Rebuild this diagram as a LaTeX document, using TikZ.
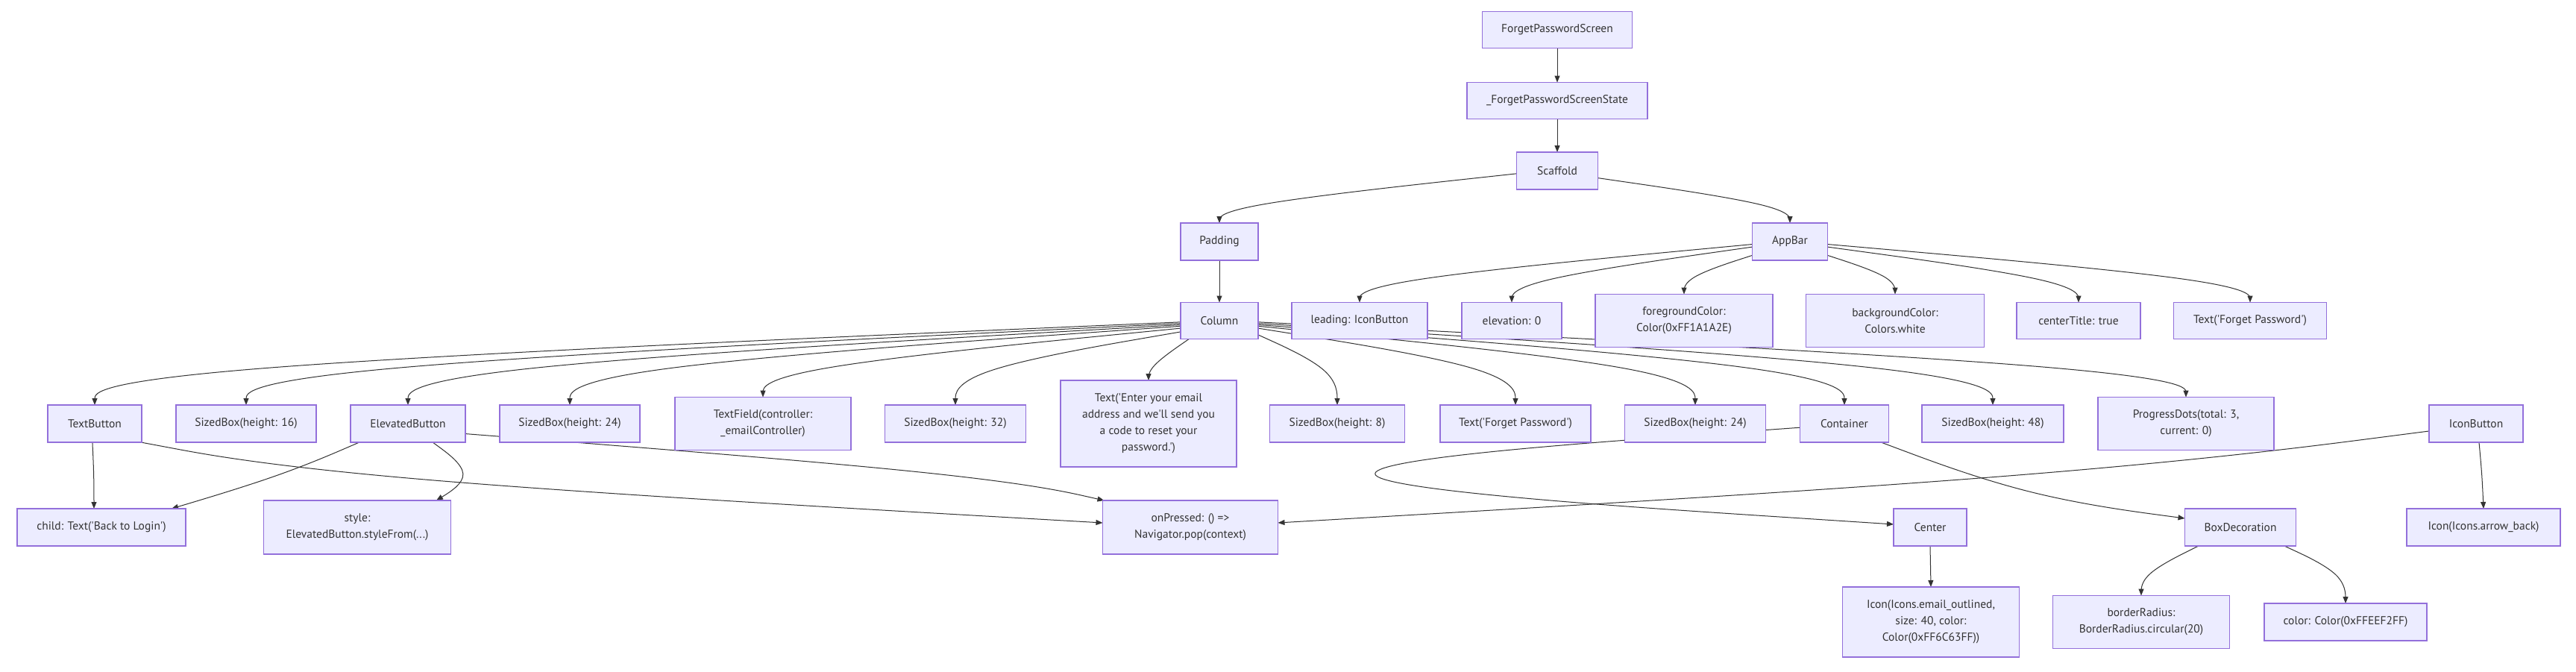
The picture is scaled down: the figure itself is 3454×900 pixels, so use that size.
\documentclass[tikz,border=0pt]{standalone}
\usepackage{fontspec}
\newfontfamily\nf{PT Sans}
\usetikzlibrary{arrows.meta,calc}
\pgfdeclarelayer{back}
\pgfdeclarelayer{edges}
\pgfsetlayers{back,edges,main}
\definecolor{boxfill}{HTML}{ECECFF}
\definecolor{boxline}{HTML}{9370DB}
\definecolor{ink}{HTML}{333333}
\newcommand{\nfsize}{\nf\fontsize{15.5pt}{22pt}\selectfont}
\tikzset{
  box/.style={draw=boxline, fill=boxfill, line width=1.1pt, text=ink, align=center,
    inner sep=0pt, outer sep=0pt, font=\nfsize},
  sz/.style 2 args={minimum width=#1pt, minimum height=#2pt},
  conn/.style={draw=ink, line width=1pt, -{Triangle[length=9pt,width=7pt]}},
  basis/.style={to path={
    -- ($0.83333*(\tikztostart)+0.16667*#1$)
    .. controls ($0.66667*(\tikztostart)+0.33333*#1$) and ($0.33333*(\tikztostart)+0.66667*#1$)
    .. ($0.16667*(\tikztostart)+0.66667*#1+0.16667*(\tikztotarget)$)
    .. controls ($0.66667*#1+0.33333*(\tikztotarget)$) and ($0.33333*#1+0.66667*(\tikztotarget)$)
    .. ($0.16667*#1+0.83333*(\tikztotarget)$)
    -- (\tikztotarget)}}
}
\begin{document}
\begin{tikzpicture}[x=1pt,y=-1pt]
\useasboundingbox (0,0) rectangle (3454,900);
\begin{pgfonlayer}{back}
\fill[white] (0,0) rectangle (3454,900);
\end{pgfonlayer}
% rank 0-2
\node[box,sz={201}{49}] (fps) at (2088,40) {ForgetPasswordScreen};
\node[box,sz={242}{49}] (fpss) at (2088,135) {\_ForgetPasswordScreenState};
\node[box,sz={109}{50}] (scaffold) at (2088,229) {Scaffold};
\node[box,sz={104}{50}] (padding) at (1635,324) {Padding};
\node[box,sz={101}{50}] (appbar) at (2400,324) {AppBar};
% rank 3
\node[box,sz={104}{49}] (column) at (1635,430) {Column};
\node[box,sz={182}{49}] (leading) at (1823,430) {leading: IconButton};
\node[box,sz={134}{49}] (elev) at (2027,430) {elevation: 0};
\node[box,sz={238}{71}] (fg) at (2258,430) {foregroundColor:\\Color(0xFF1A1A2E)};
\node[box,sz={239}{71}] (bg) at (2541,430) {backgroundColor:\\Colors.white};
\node[box,sz={166}{49}] (ctitle) at (2787,430) {centerTitle: true};
\node[box,sz={205}{49}] (tfpb) at (3017,430) {Text('Forget Password')};
% rank 4
\node[box,sz={126}{50}] (tb) at (127,568) {TextButton};
\node[box,sz={188}{50}] (sbsixteen) at (330,568) {SizedBox(height: 16)};
\node[box,sz={154}{50}] (eb) at (547,568) {ElevatedButton};
\node[box,sz={188}{50}] (sbtwfa) at (764,568) {SizedBox(height: 24)};
\node[box,sz={236}{71}] (tf) at (1023,568) {TextField(controller:\\\_emailController)};
\node[box,sz={189}{50}] (sbthirty) at (1281,568) {SizedBox(height: 32)};
\node[box,sz={236}{116}] (te) at (1540,568) {Text('Enter your email\\address and we'll send you\\a code to reset your\\password.')};
\node[box,sz={181}{50}] (sbeight) at (1793,568) {SizedBox(height: 8)};
\node[box,sz={202}{50}] (tfpa) at (2032,568) {Text('Forget Password')};
\node[box,sz={189}{50}] (sbtwfb) at (2273,568) {SizedBox(height: 24)};
\node[box,sz={119}{50}] (cont) at (2473,568) {Container};
\node[box,sz={190}{50}] (sbfe) at (2672,568) {SizedBox(height: 48)};
\node[box,sz={236}{71}] (pd) at (2931,568) {ProgressDots(total: 3,\\current: 0)};
\node[box,sz={126}{50}] (ib) at (3320,568) {IconButton};
% rank 5
\node[box,sz={226}{50}] (child) at (136,707) {child: Text('Back to Login')};
\node[box,sz={251}{72}] (style) at (479,707) {style:\\ElevatedButton.styleFrom(...)};
\node[box,sz={235}{72}] (onp) at (1596,707) {onPressed: () =>\\Navigator.pop(context)};
\node[box,sz={98}{50}] (center) at (2588,707) {Center};
\node[box,sz={149}{50}] (boxdec) at (3004,707) {BoxDecoration};
\node[box,sz={206}{50}] (aback) at (3330,707) {Icon(Icons.arrow\_back)};
% rank 6
\node[box,sz={237}{94}] (iemail) at (2589,834) {Icon(Icons.email\_outlined,\\size: 40, color:\\Color(0xFF6C63FF))};
\node[box,sz={237}{71}] (bradius) at (2871,834) {borderRadius:\\BorderRadius.circular(20)};
\node[box,sz={218}{50}] (colr) at (3145,834) {color: Color(0xFFEEF2FF)};
% ports
\coordinate (childA) at ([xshift=-10pt]child.north);
\coordinate (childB) at ([xshift=94pt]child.north);
\coordinate (styleA) at ([xshift=106pt]style.north);
\coordinate (onpL) at ([yshift=6pt]onp.west);
\coordinate (onpT) at ([xshift=2pt]onp.north west);
\coordinate (onpR) at ([yshift=6pt]onp.east);
\coordinate (centerL) at ([yshift=4pt]center.west);
\coordinate (boxdecL) at ([yshift=12pt]boxdec.west);
\begin{pgfonlayer}{edges}
\draw[conn] (fps.south) -- (fpss.north);
\draw[conn] (fpss.south) -- (scaffold.north);
\draw[conn] (scaffold.184) to[basis={(1635,276)}] (padding.north);
\draw[conn] (scaffold.350) to[basis={(2400,276)}] (appbar.north);
\draw[conn] (padding.south) -- (column.north);
\draw[conn] (appbar.184) to[basis={(1823,377)}] (leading.north);
\draw[conn] (appbar.188) to[basis={(2027,377)}] (elev.north);
\draw[conn] (appbar.200) to[basis={(2258,372)}] (fg.north);
\draw[conn] (appbar.340) to[basis={(2541,372)}] (bg.north);
\draw[conn] (appbar.352) to[basis={(2787,377)}] (ctitle.north);
\draw[conn] (appbar.356) to[basis={(3017,377)}] (tfpb.north);
\draw[conn] (column.182) to[basis={(127,495)}] (tb.north);
\draw[conn] (column.184) to[basis={(330,495)}] (sbsixteen.north);
\draw[conn] (column.186) to[basis={(547,495)}] (eb.north);
\draw[conn] (column.188) to[basis={(764,495)}] (sbtwfa.north);
\draw[conn] (column.191) to[basis={(1023,495)}] (tf.north);
\draw[conn] (column.196) to[basis={(1281,497)}] (sbthirty.north);
\draw[conn] (column.211) to[basis={(1540,492)}] (te.north);
\draw[conn] (column.340) to[basis={(1793,497)}] (sbeight.north);
\draw[conn] (column.349) to[basis={(2032,495)}] (tfpa.north);
\draw[conn] (column.352) to[basis={(2273,495)}] (sbtwfb.north);
\draw[conn] (column.354) to[basis={(2473,495)}] (cont.north);
\draw[conn] (column.356) to[basis={(2672,495)}] (sbfe.north);
\draw[conn] (column.358) to[basis={(2931,495)}] (pd.north);
\draw[conn] (tb.263) to[basis={(126,637)}] (childA);
\draw[conn] (tb.338) to[basis={(450,642)}] (onpL);
\draw[conn] (eb.201) to[basis={(380,637)}] (childB);
\draw[conn] (eb.323) to[basis={(640,637)}] (styleA);
\draw[conn] (eb.350) to[basis={(1330,637)}] (onpT);
\draw[conn] (cont.185) to[basis={(1529,637)}] (centerL);
\draw[conn] (cont.333) to[basis={(2720,667)}] (boxdecL);
\draw[conn] (ib.189) to[basis={(2800,637)}] (onpR);
\draw[conn] (ib.279) to[basis={(3328,637)}] (aback.north);
\draw[conn] (center.south) -- (iemail.north);
\draw[conn] (boxdec.204) to[basis={(2871,770)}] (bradius.north);
\draw[conn] (boxdec.337) to[basis={(3145,770)}] (colr.north);
\end{pgfonlayer}
\end{tikzpicture}
\end{document}
